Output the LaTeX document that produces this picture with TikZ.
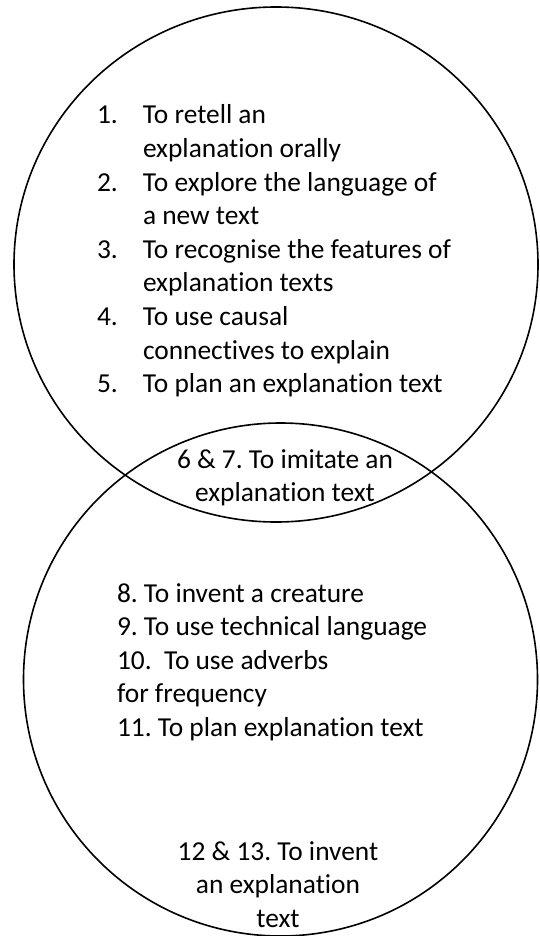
\documentclass[tikz,border=0pt]{standalone}
\usepackage{fontspec}
\setmainfont{Carlito}[Ligatures={NoCommon,NoContextual}]
\frenchspacing
\usetikzlibrary{shapes.geometric}
\tikzset{
  venn/.style={ellipse, draw=black, line width=1.6pt, inner sep=0pt, outer sep=0pt},
  txt/.style={inner sep=0pt, outer sep=0pt, font=\fontsize{27.4}{33.6}\selectfont}
}
\begin{document}
\begin{tikzpicture}[x=1pt,y=-1pt]
\useasboundingbox (0,0) rectangle (539,936);
\node[venn, minimum width=524pt, minimum height=515pt] (top) at (276,264.5) {};
\node[venn, minimum width=514pt, minimum height=513pt] (bottom) at (280.5,679.5) {};
\node[txt, anchor=base west] (toplist) at (97,124) {%
\begin{tabular}[t]{@{}l@{}l@{}}
\makebox[46pt][l]{1.} & To retell an\\
 & explanation orally\\
\makebox[46pt][l]{2.} & To explore the language of\\
 & a new text\\
\makebox[46pt][l]{3.} & To recognise the features of\\
 & explanation texts\\
\makebox[46pt][l]{4.} & To use causal\\
 & connectives to explain\\
\makebox[46pt][l]{5.} & To plan an explanation text
\end{tabular}};
\node[txt, anchor=base] (mid) at (285,468) {%
\begin{tabular}[t]{@{}c@{}}
6 \& 7. To imitate an\\
explanation text
\end{tabular}};
\node[txt, anchor=base west] (botlist) at (117,602) {%
\begin{tabular}[t]{@{}l@{}}
8. To invent a creature\\
9. To use technical language\\
10.\ \ To use adverbs\\
for frequency\\
11. To plan explanation text
\end{tabular}};
\node[txt, anchor=base] (last) at (278,860) {%
\begin{tabular}[t]{@{}c@{}}
12 \& 13. To invent\\
an explanation\\
text
\end{tabular}};
\end{tikzpicture}
\end{document}
